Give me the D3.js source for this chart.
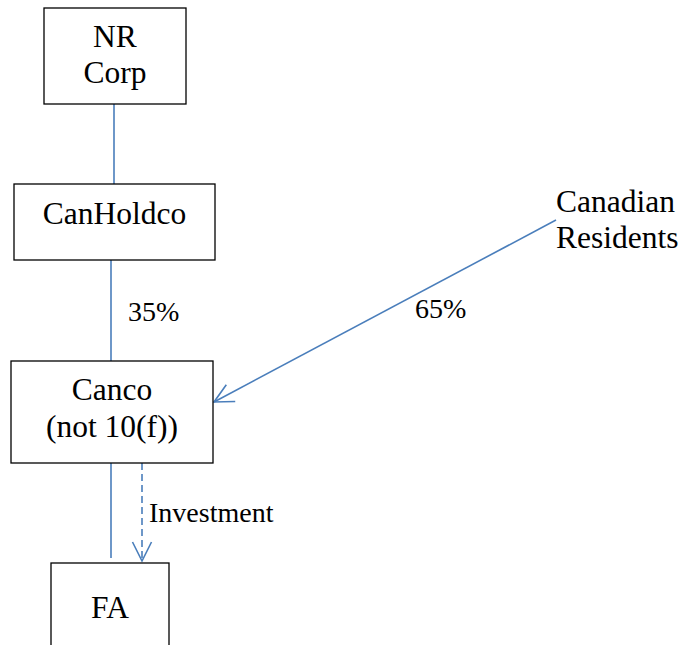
<!DOCTYPE html>
<html>
<head>
<meta charset="utf-8">
<script src="https://cdn.jsdelivr.net/npm/d3@7"></script>
<style>
  body { margin: 0; background: #fff; }
</style>
</head>
<body>
<script>
"use strict";

// diagram content
var node_ids = ['nr', 'canholdco', 'canco', 'fa', 'residents'];
var node_lines = [['NR', 'Corp'], ['CanHoldco'], ['Canco', '(not 10(f))'], ['FA'], ['Canadian', 'Residents']];
var node_boxed = [true, true, true, true, false];

var link_from = ['nr', 'canholdco', 'residents', 'canco', 'canco'];
var link_to = ['canholdco', 'canco', 'canco', 'fa', 'fa'];
var link_labels = ['', '35%', '65%', '', 'Investment'];
var link_kind = ['plain', 'plain', 'arrow', 'plain', 'dashed'];

// layout (pixels) kept apart from the content
var box = {
  nr:        {x0: 44, x1: 186, y0: 8,   y1: 104, base: [47, 83]},
  canholdco: {x0: 14, x1: 215, y0: 184, y1: 260, base: [224]},
  canco:     {x0: 11, x1: 213, y0: 361, y1: 463, base: [400, 437]},
  fa:        {x0: 51, x1: 169, y0: 563, y1: 660, base: [618]},
  residents: {x0: 556, x1: 680, y0: 180, y1: 255, base: [212, 248], anchor: 'start'}
};
var link_geo = [
  {x1: 114, y1: 104, x2: 114, y2: 184},
  {x1: 111, y1: 260, x2: 111, y2: 361, lx: 128, ly: 321, anchor: 'start'},
  {x1: 556, y1: 220, x2: 214, y2: 402, lx: 415, ly: 318, anchor: 'start'},
  {x1: 111, y1: 463, x2: 111, y2: 558},
  {x1: 142, y1: 463, x2: 142, y2: 561, lx: 149, ly: 522, anchor: 'start'}
];

var width = 682, height = 645,
  blue = '#4a7ebb',
  serif = "'Liberation Serif', 'Times New Roman', 'DejaVu Serif', serif";

var svg = d3.select('body').append('svg')
  .attr('width', width)
  .attr('height', height)
  .attr('font-family', serif);

var nodes = node_ids.map((id, i) => ({id: id, lines: node_lines[i], boxed: node_boxed[i], g: box[id]}));
var links = link_from.map((f, i) => ({from: f, to: link_to[i], label: link_labels[i], kind: link_kind[i], g: link_geo[i]}));

// links ------------------------------------------------------
var link_g = svg.append('g').attr('class', 'links');

link_g.selectAll('line')
  .data(links)
  .enter().append('line')
    .attr('x1', d => d.g.x1)
    .attr('y1', d => d.g.y1)
    .attr('x2', d => d.g.x2)
    .attr('y2', d => d.g.y2)
    .attr('stroke', blue)
    .attr('stroke-width', 1.6)
    .attr('stroke-dasharray', d => d.kind === 'dashed' ? '7,4' : null);

// open arrow heads
function head(d) {
  var dx = d.g.x2 - d.g.x1, dy = d.g.y2 - d.g.y1,
    len = Math.sqrt(dx * dx + dy * dy),
    ux = dx / len, uy = dy / len,
    L = 19, W = 9.5;
  var bx = d.g.x2 - ux * L, by = d.g.y2 - uy * L;
  return `M${bx - uy * W},${by + ux * W}L${d.g.x2},${d.g.y2}L${bx + uy * W},${by - ux * W}`;
}

link_g.selectAll('path')
  .data(links.filter(d => d.kind !== 'plain'))
  .enter().append('path')
    .attr('d', head)
    .attr('fill', 'none')
    .attr('stroke', blue)
    .attr('stroke-width', 1.6);

link_g.selectAll('text')
  .data(links.filter(d => d.label !== ''))
  .enter().append('text')
    .attr('x', d => d.g.lx)
    .attr('y', d => d.g.ly)
    .attr('text-anchor', d => d.g.anchor)
    .attr('font-family', serif)
    .attr('font-size', 28)
    .text(d => d.label);

// nodes ------------------------------------------------------
var node_g = svg.append('g').attr('class', 'nodes')
  .selectAll('g')
  .data(nodes)
  .enter().append('g');

node_g.filter(d => d.boxed)
  .append('rect')
    .attr('x', d => d.g.x0)
    .attr('y', d => d.g.y0)
    .attr('width', d => d.g.x1 - d.g.x0)
    .attr('height', d => d.g.y1 - d.g.y0)
    .attr('fill', '#fff')
    .attr('stroke', '#000')
    .attr('stroke-width', 1.3);

node_g.each(function(d) {
  var anchor = d.g.anchor || 'middle',
    x = anchor === 'middle' ? (d.g.x0 + d.g.x1) / 2 : d.g.x0;
  d3.select(this).selectAll('text')
    .data(d.lines)
    .enter().append('text')
      .attr('x', x)
      .attr('y', (t, i) => d.g.base[i])
      .attr('text-anchor', anchor)
      .attr('font-family', serif)
      .attr('font-size', 31.5)
      .attr('fill', '#000')
      .text(t => t);
});
</script>
</body>
</html>
